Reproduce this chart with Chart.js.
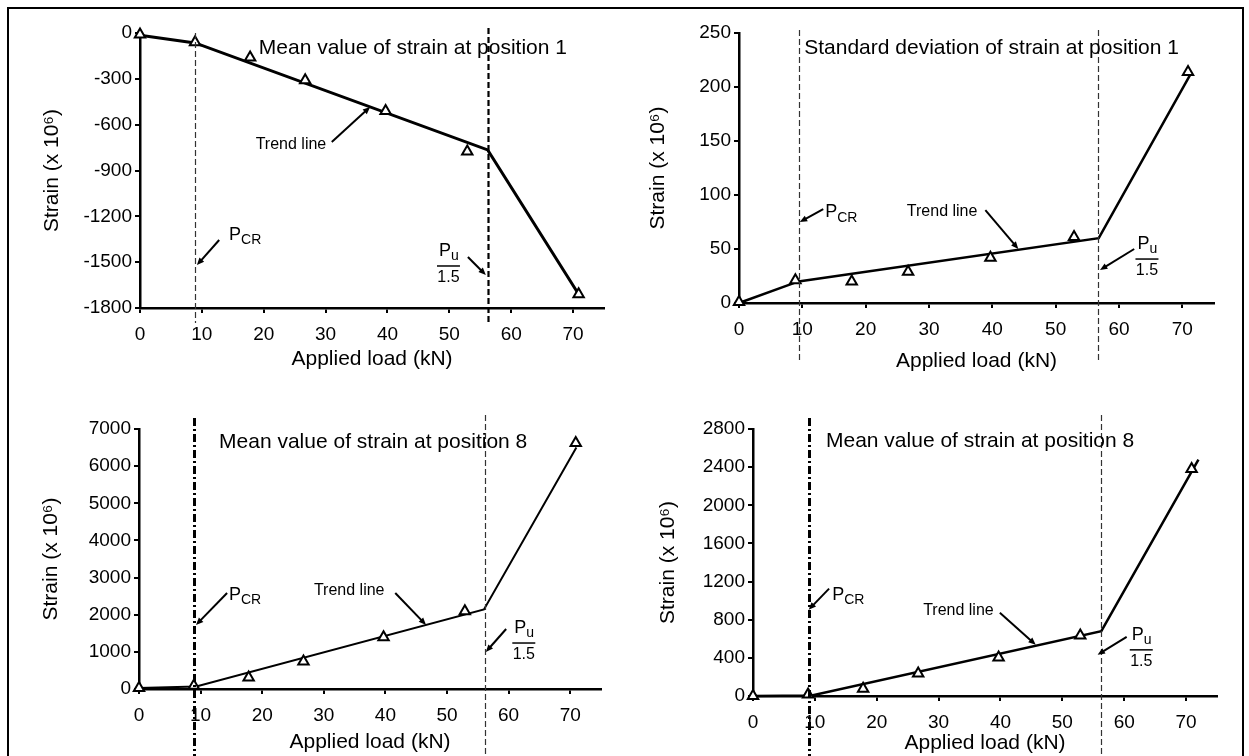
<!DOCTYPE html>
<html>
<head>
<meta charset="utf-8">
<script src="https://cdn.jsdelivr.net/npm/chart.js@4/dist/chart.umd.min.js"></script>
<style>
  body { margin: 0; background: #fff; width: 1249px; height: 756px; overflow: hidden; position: relative; }
  #frame { position: absolute; left: 7px; top: 7px; width: 1237px; height: 770px; border: 2px solid #000; box-sizing: border-box; }
  canvas { position: absolute; }
</style>
</head>
<body>
<div id="frame"></div>
<canvas id="c1" width="610" height="370" style="left:10px;top:10px"></canvas>
<canvas id="c2" width="615" height="370" style="left:625px;top:10px"></canvas>
<canvas id="c3" width="610" height="376" style="left:10px;top:380px"></canvas>
<canvas id="c4" width="615" height="376" style="left:625px;top:380px"></canvas>
<script>
// applied load steps (kN), same for every panel
const loads = [0, 8.9, 17.8, 26.7, 39.7, 52.9, 70.9];

// measured points
const meanPos1 = [-10, -60, -160, -310, -510, -775, -1710];
const sdPos1 = [1, 21, 20, 29, 42, 61, 214];
const meanPos8a = [30, 90, 310, 740, 1390, 2090, 6620];
const meanPos8b = [0, 15, 75, 235, 405, 635, 2380];

// trend lines (load, strain)
const trendLoad1 = [0, 8.9, 56.2, 70.9];
const trendPos1 = [-15, -65, -765, -1710];
const trendLoad2 = [0, 9.4, 56.8, 71.3];
const trendSd1 = [0, 20, 60, 212];
const trendLoad3 = [0, 9.3, 56.0, 71.0];
const trendPos8a = [30, 70, 2140, 6500];
const trendLoad4 = [0, 9.5, 56.3, 72.0];
const trendPos8b = [0, 5, 680, 2480];

// P_CR and Pu/1.5 loads per panel
const pcrLoad = [8.9, 9.5, 8.9, 9.0];
const puLoad = [56.2, 56.7, 56.2, 56.2];

// y axis ranges per panel [min, max, step]
const yRange1 = [-1800, 0, 300];
const yRange2 = [0, 250, 50];
const yRange3 = [0, 7000, 1000];
const yRange4 = [0, 2800, 400];

const FONT = '"Liberation Sans", Arial, sans-serif';

function arrow(ctx, x1, y1, x2, y2) {
  const a = Math.atan2(y2 - y1, x2 - x1);
  const L = 8;
  ctx.beginPath();
  ctx.setLineDash([]);
  ctx.lineWidth = 2;
  ctx.moveTo(x1, y1);
  ctx.lineTo(x2 - Math.cos(a) * 5, y2 - Math.sin(a) * 5);
  ctx.stroke();
  ctx.beginPath();
  ctx.moveTo(x2, y2);
  ctx.lineTo(x2 - L * Math.cos(a - 0.4), y2 - L * Math.sin(a - 0.4));
  ctx.lineTo(x2 - L * Math.cos(a + 0.4), y2 - L * Math.sin(a + 0.4));
  ctx.closePath();
  ctx.fill();
}

function subText(ctx, main, sub, x, y, size) {
  ctx.font = size + 'px ' + FONT;
  ctx.textAlign = 'left';
  ctx.textBaseline = 'middle';
  ctx.fillText(main, x, y);
  const w = ctx.measureText(main).width;
  ctx.font = Math.round(size * 0.75) + 'px ' + FONT;
  ctx.fillText(sub, x + w, y + size * 0.3);
}

const notesPlugin = {
  id: 'notes',
  afterDatasetsDraw(chart, args, o) {
    const { ctx, chartArea } = chart;
    const X = v => chart.scales.x.getPixelForValue(v);
    const Y = v => chart.scales.y.getPixelForValue(v);
    ctx.save();
    ctx.fillStyle = '#000';

    // vertical P_CR and Pu/1.5 lines
    o.lines.forEach(m => {
      const x = Math.round(X(m.load)) + 0.5;
      ctx.beginPath();
      ctx.setLineDash(m.dash);
      ctx.lineWidth = m.width;
      ctx.strokeStyle = m.color;
      ctx.moveTo(x, chartArea.top + m.top);
      ctx.lineTo(x, chartArea.bottom + m.bottom);
      ctx.stroke();
    });
    ctx.strokeStyle = '#000';

    // panel title
    ctx.font = '21px ' + FONT;
    ctx.textAlign = 'left';
    ctx.textBaseline = 'middle';
    ctx.fillText(o.title, X(o.titleAt[0]), Y(o.titleAt[1]));

    // trend line label
    ctx.font = '16px ' + FONT;
    ctx.fillText('Trend line', X(o.trendAt[0]), Y(o.trendAt[1]));
    arrow(ctx, X(o.trendArrow[0]), Y(o.trendArrow[1]), X(o.trendArrow[2]), Y(o.trendArrow[3]));

    // P_CR label
    subText(ctx, 'P', 'CR', X(o.pcrAt[0]), Y(o.pcrAt[1]), 18);
    arrow(ctx, X(o.pcrArrow[0]), Y(o.pcrArrow[1]), X(o.pcrArrow[2]), Y(o.pcrArrow[3]));

    // Pu / 1.5 label
    const bx = X(o.puAt[0]), by = Y(o.puAt[1]);
    ctx.beginPath();
    ctx.setLineDash([]);
    ctx.lineWidth = 1.5;
    ctx.moveTo(bx, by);
    ctx.lineTo(bx + 23, by);
    ctx.stroke();
    subText(ctx, 'P', 'u', bx + 2, by - 15, 18);
    ctx.font = '16px ' + FONT;
    ctx.textAlign = 'center';
    ctx.fillText('1.5', bx + 11.5, by + 12);
    arrow(ctx, X(o.puArrow[0]), Y(o.puArrow[1]), X(o.puArrow[2]), Y(o.puArrow[3]));

    ctx.restore();
  }
};

function makePanel(id, p) {
  const tickFont = { family: FONT, size: 19 };
  const titleFont = { family: FONT, size: 21 };
  new Chart(document.getElementById(id), {
    type: 'scatter',
    data: {
      datasets: [
        {
          data: loads.map((x, i) => ({ x: x, y: p.points[i] })),
          showLine: false,
          clip: false,
          pointStyle: 'triangle',
          pointRadius: 6,
          pointBorderWidth: 2,
          pointBorderColor: '#000',
          pointBackgroundColor: '#fff'
        },
        {
          data: p.trendX.map((x, i) => ({ x: x, y: p.trendY[i] })),
          showLine: true,
          clip: false,
          borderColor: '#000',
          borderWidth: p.trendWidth,
          pointRadius: 0
        }
      ]
    },
    options: {
      responsive: false,
      animation: false,
      events: [],
      layout: { padding: p.pad },
      plugins: {
        legend: { display: false },
        tooltip: { enabled: false },
        notes: p.notes
      },
      scales: {
        x: {
          type: 'linear',
          min: 0, max: 75,
          afterFit: s => { s.height = p.xH; },
          border: { color: '#000', width: 2.5 },
          grid: { drawOnChartArea: false, color: '#000', lineWidth: 2, tickLength: 5 },
          ticks: { stepSize: 10, includeBounds: false, color: '#000', font: tickFont, padding: 10, maxRotation: 0 },
          title: { display: true, text: 'Applied load (kN)', color: '#000', font: titleFont, padding: 0 }
        },
        y: {
          min: p.yRange[0], max: p.yRange[1],
          afterFit: s => { s.width = p.yW; },
          border: { color: '#000', width: 2.5 },
          grid: { drawOnChartArea: false, color: '#000', lineWidth: 2, tickLength: 5 },
          ticks: { stepSize: p.yRange[2], color: '#000', font: tickFont, padding: 3, format: { useGrouping: false } },
          title: { display: true, text: 'Strain (x 10\u2076)', color: '#000', font: titleFont, padding: 0 }
        }
      }
    },
    plugins: [notesPlugin]
  });
}

const thinDash = { width: 1.2, color: '#333', dash: [6, 3] };
const thickDash = { width: 2.2, color: '#000', dash: [6, 3] };
const heavyDash = { width: 3, color: '#000', dash: [8, 3, 2, 3] };

makePanel('c1', {
  points: meanPos1, trendX: trendLoad1, trendY: trendPos1, trendWidth: 3,
  yRange: yRange1, yW: 100, xH: 64,
  pad: { left: 30, top: 23, right: 16, bottom: 8 },
  notes: {
    lines: [
      Object.assign({ load: pcrLoad[0], top: 0, bottom: 15 }, thinDash),
      Object.assign({ load: puLoad[0], top: -5, bottom: 15 }, thickDash)
    ],
    title: 'Mean value of strain at position 1', titleAt: [19.2, -98],
    trendAt: [18.7, -733], trendArrow: [31.0, -713, 37.2, -484],
    pcrAt: [14.4, -1322], pcrArrow: [12.8, -1355, 9.2, -1519],
    puAt: [48.0, -1525], puArrow: [53.0, -1466, 55.9, -1584]
  }
});

makePanel('c2', {
  points: sdPos1, trendX: trendLoad2, trendY: trendSd1, trendWidth: 2.5,
  yRange: yRange2, yW: 93, xH: 71,
  pad: { left: 21, top: 23, right: 26, bottom: 6 },
  notes: {
    lines: [
      Object.assign({ load: pcrLoad[1], top: -3, bottom: 60 }, thinDash),
      Object.assign({ load: puLoad[1], top: -3, bottom: 60 }, thinDash)
    ],
    title: 'Standard deviation of strain at position 1', titleAt: [10.3, 236],
    trendAt: [26.5, 85], trendArrow: [38.9, 86, 44.1, 50],
    pcrAt: [13.6, 84], pcrArrow: [13.3, 87, 9.6, 75],
    puAt: [62.6, 40.7], puArrow: [62.4, 50, 57.0, 30.6]
  }
});

makePanel('c3', {
  points: meanPos8a, trendX: trendLoad3, trendY: trendPos8a, trendWidth: 2,
  yRange: yRange3, yW: 100, xH: 66,
  pad: { left: 29, top: 49, right: 19, bottom: 1 },
  notes: {
    lines: [
      Object.assign({ load: pcrLoad[2], top: -11, bottom: 80 }, heavyDash),
      Object.assign({ load: puLoad[2], top: -14, bottom: 80 }, thinDash)
    ],
    title: 'Mean value of strain at position 8', titleAt: [13.0, 6650],
    trendAt: [28.4, 2638], trendArrow: [41.6, 2585, 46.6, 1723],
    pcrAt: [14.6, 2531], pcrArrow: [14.3, 2585, 9.25, 1723],
    puAt: [60.6, 1238], puArrow: [59.6, 1615, 56.3, 996]
  }
});

makePanel('c4', {
  points: meanPos8b, trendX: trendLoad4, trendY: trendPos8b, trendWidth: 2.5,
  yRange: yRange4, yW: 97, xH: 60,
  pad: { left: 31, top: 49, right: 23, bottom: 0 },
  notes: {
    lines: [
      Object.assign({ load: pcrLoad[3], top: -11, bottom: 80 }, heavyDash),
      Object.assign({ load: puLoad[3], top: -14, bottom: 80 }, thinDash)
    ],
    title: 'Mean value of strain at position 8', titleAt: [11.8, 2674],
    trendAt: [27.5, 895], trendArrow: [39.9, 874, 45.7, 537],
    pcrAt: [12.8, 1063], pcrArrow: [12.3, 1126, 9.0, 905],
    puAt: [60.9, 484], puArrow: [60.4, 621, 55.7, 432]
  }
});
</script>
</body>
</html>
